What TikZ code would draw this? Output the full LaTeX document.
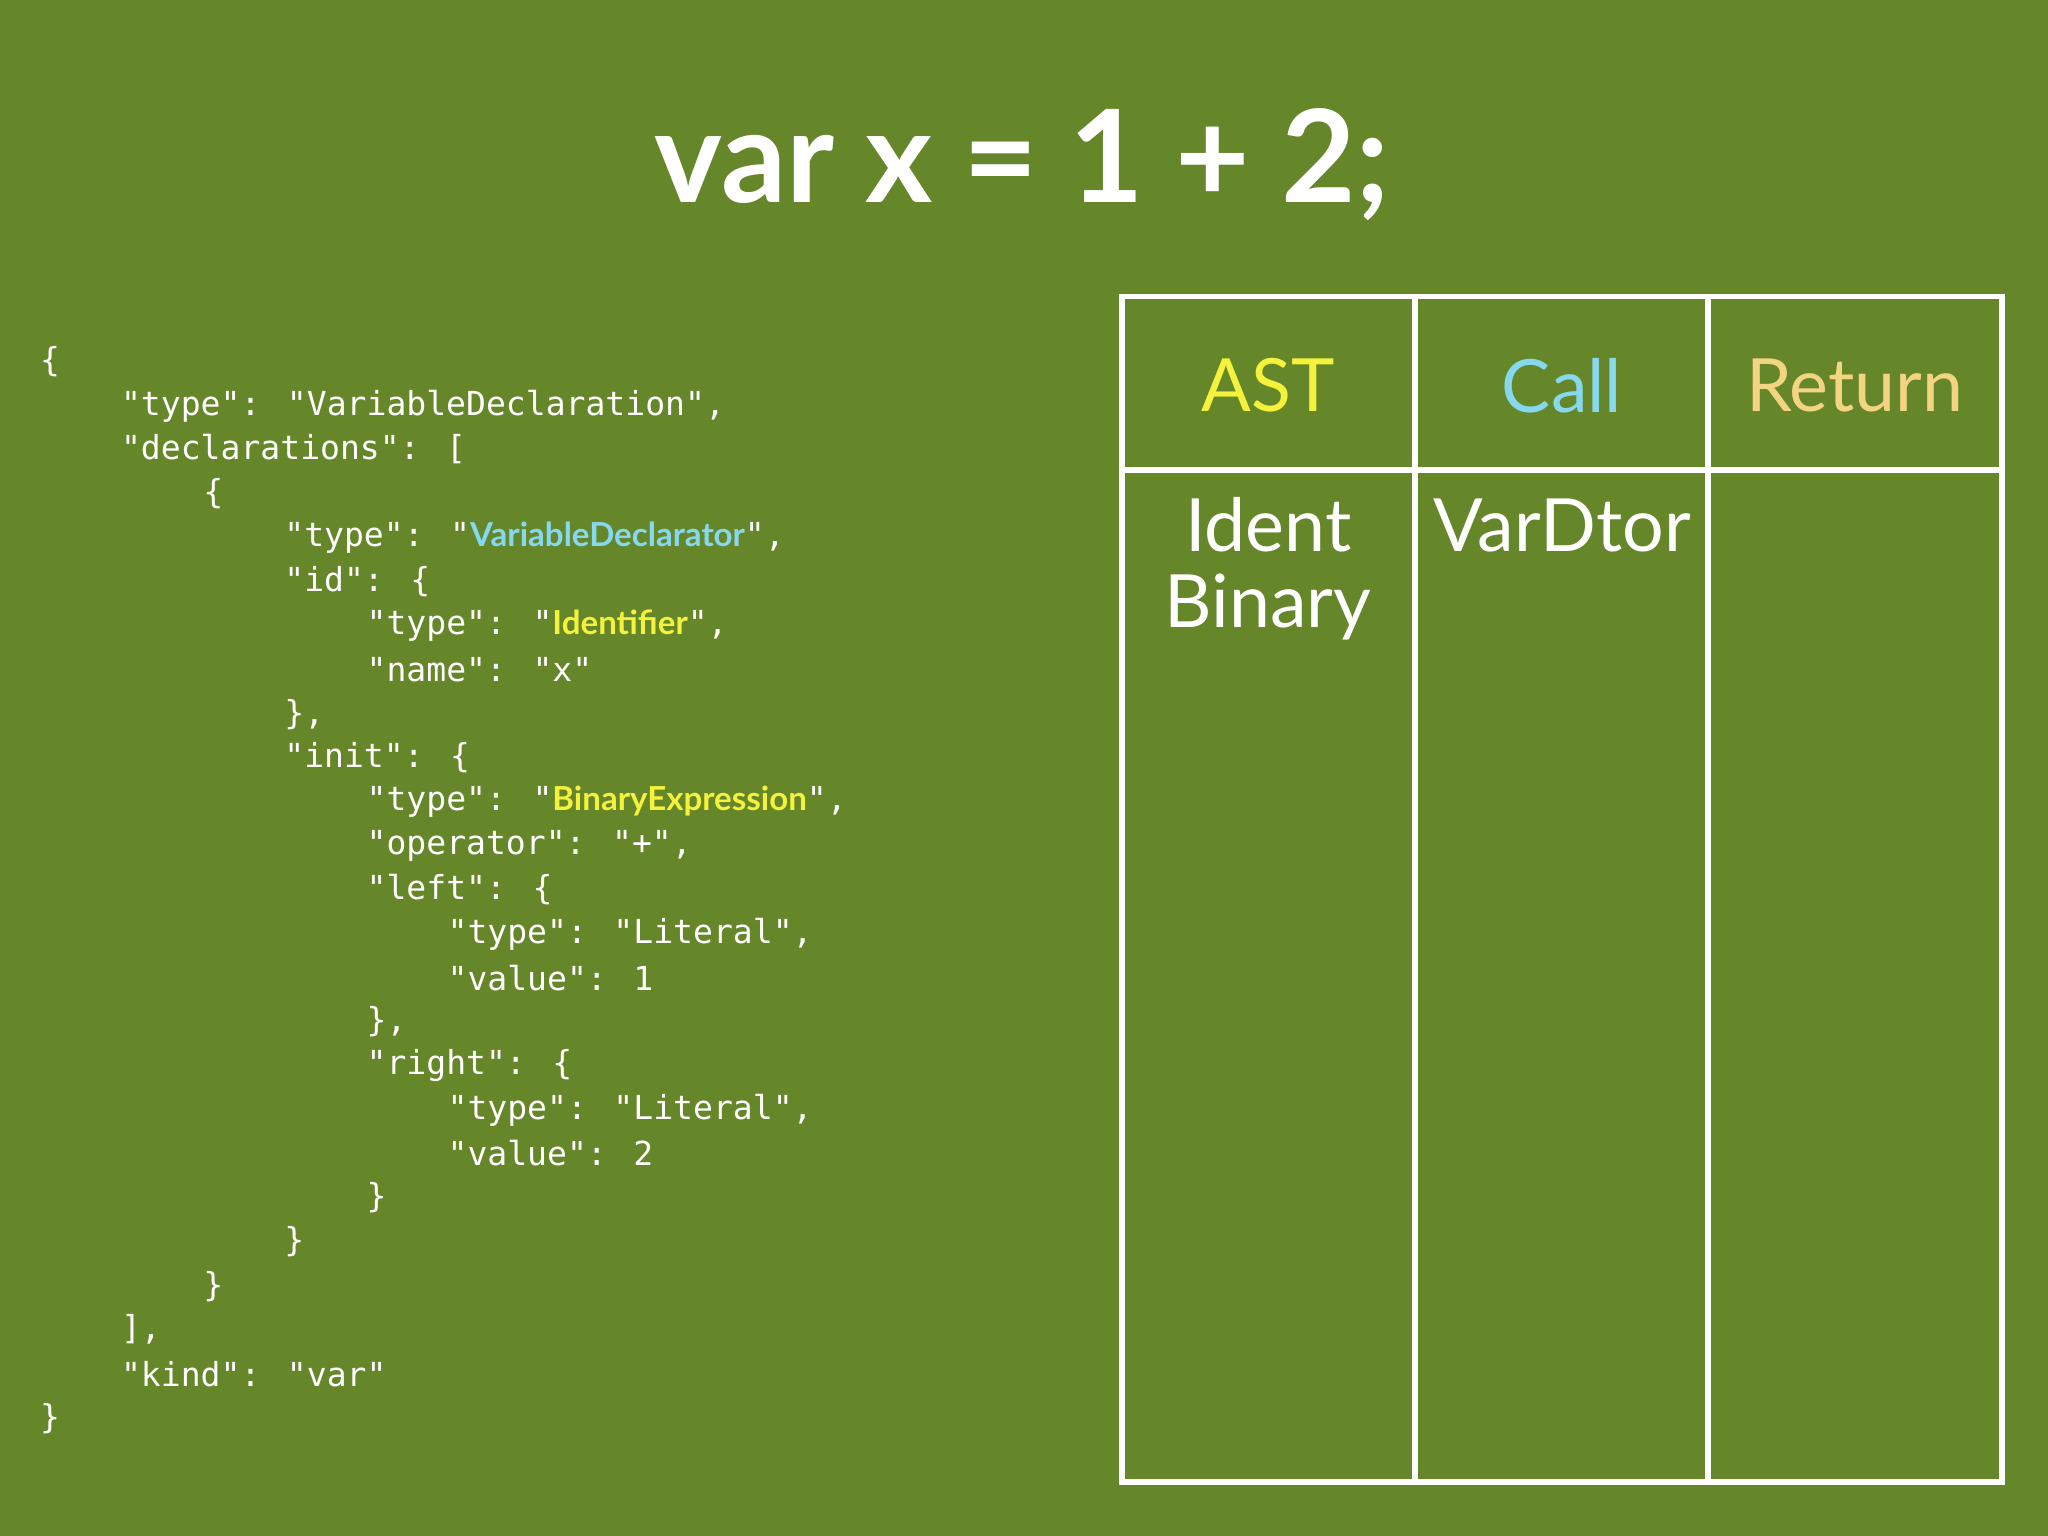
\documentclass[tikz,border=0pt]{standalone}
\usepackage{fontspec}
\setmainfont{Lato}
\newfontfamily\codefont{DejaVu Sans Mono}
\definecolor{board}{HTML}{66862A}
\definecolor{astyellow}{HTML}{F4F23C}
\definecolor{callblue}{HTML}{86D8EE}
\definecolor{retorange}{HTML}{F2D483}
\newcommand{\hlblue}[1]{{\fontfamily{\rmdefault}\selectfont\bfseries\color{callblue}#1}}
\newcommand{\hlyellow}[1]{{\fontfamily{\rmdefault}\selectfont\bfseries\color{astyellow}#1}}
\tikzset{
  code/.style={anchor=west, inner sep=0pt, text=white, font=\codefont\fontsize{7.2}{9}\selectfont},
  head/.style={font=\fontsize{16}{18}\selectfont},
  cell/.style={text=white, font=\fontsize{16}{18}\selectfont}
}
\begin{document}
\begin{tikzpicture}[x=0.01cm, y=-0.01cm]
\fill[board] (0,0) rectangle (1568,1176);
\useasboundingbox (0,0) rectangle (1568,1176);
% title
\node[text=white, font=\bfseries\fontsize{28}{30}\selectfont] (title) at (783,126) {var x = 1 + 2;};
% json
\node[code] (l0)  at (30,277) {\{};
\node[code] (l1)  at (92,311) {"type": "VariableDeclaration",};
\node[code] (l2)  at (92,344) {"declarations": [};
\node[code] (l3)  at (155,378) {\{};
\node[code] (l4)  at (217,412) {"type": "\hlblue{VariableDeclarator}",};
\node[code] (l5)  at (217,445) {"id": \{};
\node[code] (l6)  at (280,479) {"type": "\hlyellow{Identifier}",};
\node[code] (l7)  at (280,513) {"name": "x"};
\node[code] (l8)  at (217,547) {\},};
\node[code] (l9)  at (217,580) {"init": \{};
\node[code] (l10) at (280,614) {"type": "\hlyellow{BinaryExpression}",};
\node[code] (l11) at (280,648) {"operator": "+",};
\node[code] (l12) at (280,681) {"left": \{};
\node[code] (l13) at (342,715) {"type": "Literal",};
\node[code] (l14) at (342,749) {"value": 1};
\node[code] (l15) at (280,782) {\},};
\node[code] (l16) at (280,816) {"right": \{};
\node[code] (l17) at (342,850) {"type": "Literal",};
\node[code] (l18) at (342,883) {"value": 2};
\node[code] (l19) at (280,917) {\}};
\node[code] (l20) at (217,951) {\}};
\node[code] (l21) at (155,985) {\}};
\node[code] (l22) at (92,1018) {],};
\node[code] (l23) at (92,1052) {"kind": "var"};
\node[code] (l24) at (30,1086) {\}};
% table
\draw[white, line width=1.3pt] (859,227) rectangle (1533,1135);
\draw[white, line width=1.3pt] (859,360) -- (1533,360);
\draw[white, line width=1.3pt] (1083,227) -- (1083,1135);
\draw[white, line width=1.3pt] (1308,227) -- (1308,1135);
\node[head, text=astyellow] (ast) at (971,295) {AST};
\node[head, text=callblue] (call) at (1196,295) {Call};
\node[head, text=retorange] (ret) at (1420,295) {Return};
\node[cell] (ident) at (971,402) {Ident};
\node[cell] (binary) at (971,465) {Binary};
\node[cell] (vardtor) at (1196,402) {VarDtor};
\end{tikzpicture}
\end{document}
